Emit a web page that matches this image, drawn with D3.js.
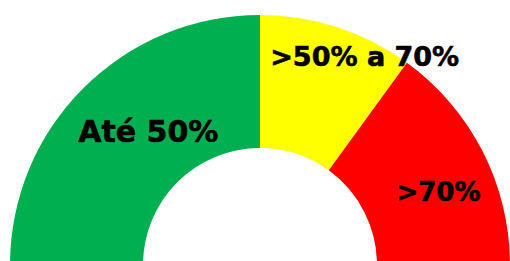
<!DOCTYPE html>
<html>
<head>
<meta charset="utf-8">
<script src="https://cdn.jsdelivr.net/npm/d3@7"></script>
<style>
  html, body { margin: 0; padding: 0; background: #fff; }
  svg { display: block; }
  .lbl { font-family: "DejaVu Sans", sans-serif; font-weight: bold; fill: #000; stroke: #000; stroke-width: 0.6px; }
</style>
</head>
<body>
<script>
var w = 510;
var h = 261;

// gauge bands
var categories = ["Até 50%", ">50% a 70%", ">70%"];
var values = [50, 20, 30];
var colors = ["#00b050", "#ffff00", "#ff0000"];

// label tweaks (offset from slice centroid, font size)
var labelDx = [18, 48, 15];
var labelDy = [7, -24, 19];
var labelSize = [30, 27, 26];

var cx = 260, cy = 265;
var outerR = 250, innerR = 117;

var svg = d3.select("body")
  .append("svg")
  .attr("width", w)
  .attr("height", h);

var pie = d3.pie()
  .sort(null)
  .startAngle(-Math.PI / 2)
  .endAngle(Math.PI / 2);

var arc = d3.arc()
  .innerRadius(innerR)
  .outerRadius(outerR);

var slices = pie(values);

var g = svg.append("g")
  .attr("transform", "translate(" + cx + "," + cy + ")");

g.selectAll("path")
  .data(slices)
  .enter()
  .append("path")
  .attr("d", arc)
  .attr("fill", function(d, i) { return colors[i]; });

g.selectAll("text")
  .data(slices)
  .enter()
  .append("text")
  .attr("class", "lbl")
  .attr("text-anchor", "middle")
  .attr("x", function(d, i) { return arc.centroid(d)[0] + labelDx[i]; })
  .attr("y", function(d, i) { return arc.centroid(d)[1] + labelDy[i]; })
  .style("font-size", function(d, i) { return labelSize[i] + "px"; })
  .text(function(d, i) { return categories[i]; });
</script>
</body>
</html>
